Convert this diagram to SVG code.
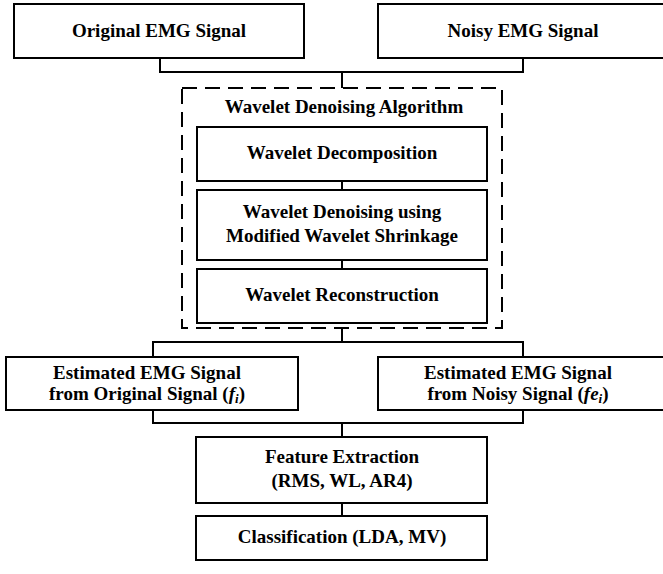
<svg xmlns="http://www.w3.org/2000/svg" width="663" height="574" viewBox="0 0 663 574">
  <style>
    .box { fill: #fff; stroke: #000; stroke-width: 2; }
    .dash { fill: none; stroke: #000; stroke-width: 2; stroke-dasharray: 15 8; }
    .wire { fill: none; stroke: #000; stroke-width: 2; }
    text { font-family: "Liberation Serif", "Times New Roman", serif; font-weight: bold; font-size: 19px; fill: #000; text-anchor: middle; }
    .it { font-style: italic; }
    .sub { font-size: 13px; }
  </style>
  <rect width="663" height="574" fill="#fff"/>

  <!-- connectors -->
  <g id="connectors">
    <path class="wire" d="M160 58 V72 H523 V58"/>
    <path class="wire" d="M342 72 V88"/>
    <path class="wire" d="M342 181 V190"/>
    <path class="wire" d="M342 260 V269"/>
    <path class="wire" d="M342 328 V342"/>
    <path class="wire" d="M153 357 V342 H523 V357"/>
    <path class="wire" d="M153 410 V423 H523 V410"/>
    <path class="wire" d="M342 423 V437"/>
    <path class="wire" d="M342 503 V516"/>
  </g>

  <g id="original-signal">
    <rect class="box" x="14" y="4" width="290" height="54"/>
    <text x="159" y="37">Original EMG Signal</text>
  </g>

  <g id="noisy-signal">
    <rect class="box" x="378" y="4" width="292" height="54"/>
    <text x="523" y="37">Noisy EMG Signal</text>
  </g>

  <g id="denoising-algorithm">
    <rect class="dash" x="182" y="88" width="320" height="240"/>
    <text x="344" y="113">Wavelet Denoising Algorithm</text>
  </g>

  <g id="decomposition">
    <rect class="box" x="197" y="127" width="290" height="54"/>
    <text x="342" y="159">Wavelet Decomposition</text>
  </g>

  <g id="shrinkage">
    <rect class="box" x="197" y="190" width="290" height="70"/>
    <text x="342" y="218">Wavelet Denoising using</text>
    <text x="342" y="242">Modified Wavelet Shrinkage</text>
  </g>

  <g id="reconstruction">
    <rect class="box" x="197" y="269" width="290" height="54"/>
    <text x="342" y="301">Wavelet Reconstruction</text>
  </g>

  <g id="estimated-original">
    <rect class="box" x="6" y="357" width="292" height="53"/>
    <text x="147" y="379">Estimated EMG Signal</text>
    <text x="147" y="400">from Original Signal (<tspan class="it">f</tspan><tspan class="it sub" dy="3">i</tspan><tspan dy="-3">)</tspan></text>
  </g>

  <g id="estimated-noisy">
    <rect class="box" x="378" y="357" width="292" height="53"/>
    <text x="518" y="379">Estimated EMG Signal</text>
    <text x="518" y="400">from Noisy Signal (<tspan class="it">fe</tspan><tspan class="it sub" dy="3">i</tspan><tspan dy="-3">)</tspan></text>
  </g>

  <g id="feature-extraction">
    <rect class="box" x="196" y="437" width="291" height="66"/>
    <text x="342" y="463">Feature Extraction</text>
    <text x="342" y="487">(RMS, WL, AR4)</text>
  </g>

  <g id="classification">
    <rect class="box" x="196" y="516" width="291" height="44"/>
    <text x="342" y="543">Classification (LDA, MV)</text>
  </g>
</svg>
